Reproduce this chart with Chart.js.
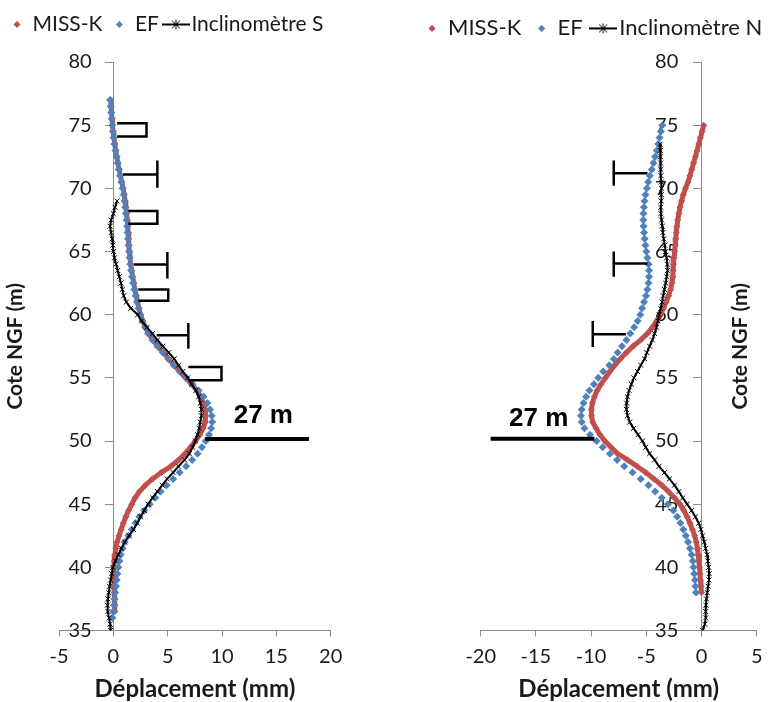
<!DOCTYPE html>
<html>
<head>
<meta charset="utf-8">
<script src="https://cdn.jsdelivr.net/npm/chart.js@4.4.1/dist/chart.umd.min.js"></script>
<style>
  html, body { margin: 0; padding: 0; background: #fff; overflow: hidden; }
  #wrap { position: relative; width: 771px; height: 702px; overflow: hidden; }
  #chartS { position: absolute; left: 0; top: 0; }
  #chartN { position: absolute; left: 385px; top: 0; }
</style>
</head>
<body>
<div id="wrap">
  <canvas id="chartS" width="385" height="702"></canvas>
  <canvas id="chartN" width="410" height="702"></canvas>
</div>
<script>
// --- data (cote NGF in m, displacement in mm) ---

// left profile (S): model curves every 0.5 m from 77 down to 36
const coteModelS = [77, 76.5, 76, 75.5, 75, 74.5, 74, 73.5, 73, 72.5, 72, 71.5, 71, 70.5, 70, 69.5, 69, 68.5, 68, 67.5,
  67, 66.5, 66, 65.5, 65, 64.5, 64, 63.5, 63, 62.5, 62, 61.5, 61, 60.5, 60, 59.5, 59, 58.5, 58, 57.5,
  57, 56.5, 56, 55.5, 55, 54.5, 54, 53.5, 53, 52.5, 52, 51.5, 51, 50.5, 50, 49.5, 49, 48.5, 48, 47.5,
  47, 46.5, 46, 45.5, 45, 44.5, 44, 43.5, 43, 42.5, 42, 41.5, 41, 40.5, 40, 39.5, 39, 38.5, 38, 37.5,
  37, 36.5, 36];
const missKS = [-0.25, -0.2, -0.17, -0.12, -0.08, -0.02, 0.05, 0.13, 0.22, 0.32,
  0.42, 0.53, 0.65, 0.78, 0.9, 1.0, 1.08, 1.15, 1.22, 1.28,
  1.32, 1.36, 1.4, 1.44, 1.48, 1.53, 1.6, 1.68, 1.78, 1.88,
  1.98, 2.1, 2.22, 2.35, 2.5, 2.7, 2.95, 3.25, 3.65, 4.1,
  4.6, 5.1, 5.6, 6.1, 6.65, 7.2, 7.7, 8.05, 8.3, 8.45,
  8.5, 8.45, 8.25, 7.95, 7.55, 7.1, 6.6, 6.0, 5.3, 4.4,
  3.6, 2.95, 2.4, 2.0, 1.7, 1.4, 1.15, 0.92, 0.72, 0.52,
  0.35, 0.22, 0.14, 0.08, 0.05, 0.04, 0.05, 0.07, 0.09, 0.12,
  0.14, 0.15];
const efS = [-0.3, -0.25, -0.2, -0.15, -0.1, -0.05, 0.02, 0.1, 0.2, 0.3,
  0.4, 0.5, 0.62, 0.74, 0.85, 0.95, 1.03, 1.1, 1.16, 1.22,
  1.27, 1.31, 1.35, 1.4, 1.45, 1.5, 1.56, 1.63, 1.72, 1.82,
  1.93, 2.05, 2.18, 2.32, 2.48, 2.68, 2.92, 3.2, 3.6, 4.05,
  4.55, 5.05, 5.55, 6.1, 6.7, 7.3, 7.85, 8.3, 8.65, 8.9,
  9.05, 9.1, 9.0, 8.8, 8.5, 8.15, 7.75, 7.25, 6.7, 6.1,
  5.5, 4.9, 4.35, 3.85, 3.35, 2.85, 2.4, 2.05, 1.7, 1.38,
  1.05, 0.85, 0.68, 0.56, 0.46, 0.38, 0.31, 0.24, 0.17, 0.1,
  0.05, 0.0, -0.08];
// inclinometer S, every 0.5 m from 69 down to 35
const coteInclS = [69, 68.5, 68, 67.5, 67, 66.5, 66, 65.5, 65, 64.5, 64, 63.5, 63, 62.5, 62, 61.5, 61, 60.5, 60, 59.5,
  59, 58.5, 58, 57.5, 57, 56.5, 56, 55.5, 55, 54.5, 54, 53.5, 53, 52.5, 52, 51.5, 51, 50.5, 50, 49.5,
  49, 48.5, 48, 47.5, 47, 46.5, 46, 45.5, 45, 44.5, 44, 43.5, 43, 42.5, 42, 41.5, 41, 40.5, 40, 39.5,
  39, 38.5, 38, 37.5, 37, 36.5, 36, 35.5, 35];
const inclS = [0.35, 0.15, 0.0, -0.2, -0.3, -0.2, -0.12, -0.05, 0.02, 0.1,
  0.25, 0.4, 0.55, 0.7, 0.82, 0.95, 1.2, 1.6, 2.25, 2.6,
  3.1, 3.6, 4.05, 4.55, 5.1, 5.6, 6.0, 6.4, 6.85, 7.2,
  7.6, 7.85, 8.0, 8.1, 8.1, 8.0, 7.9, 7.75, 7.55, 7.3,
  7.0, 6.55, 6.0, 5.5, 4.95, 4.5, 4.05, 3.6, 3.2, 2.85,
  2.5, 2.2, 1.85, 1.45, 1.05, 0.75, 0.45, 0.2, -0.05, -0.15,
  -0.25, -0.35, -0.42, -0.5, -0.55, -0.5, -0.4, -0.3, -0.25];

// right profile (N): model curves every 0.5 m from 75 down to 38
const coteModelN = [75, 74.5, 74, 73.5, 73, 72.5, 72, 71.5, 71, 70.5, 70, 69.5, 69, 68.5, 68, 67.5, 67, 66.5, 66, 65.5,
  65, 64.5, 64, 63.5, 63, 62.5, 62, 61.5, 61, 60.5, 60, 59.5, 59, 58.5, 58, 57.5, 57, 56.5, 56, 55.5,
  55, 54.5, 54, 53.5, 53, 52.5, 52, 51.5, 51, 50.5, 50, 49.5, 49, 48.5, 48, 47.5, 47, 46.5, 46, 45.5,
  45, 44.5, 44, 43.5, 43, 42.5, 42, 41.5, 41, 40.5, 40, 39.5, 39, 38.5, 38];
const missKN = [0.2, 0.05, -0.1, -0.25, -0.4, -0.55, -0.72, -0.88, -1.05, -1.22,
  -1.45, -1.65, -1.8, -1.95, -2.05, -2.15, -2.22, -2.28, -2.33, -2.38,
  -2.43, -2.5, -2.55, -2.58, -2.6, -2.68, -2.8, -2.98, -3.2, -3.45,
  -3.7, -4.05, -4.45, -4.9, -5.5, -6.2, -6.8, -7.35, -7.85, -8.3,
  -8.7, -9.1, -9.45, -9.7, -9.88, -9.97, -9.97, -9.85, -9.55, -9.2,
  -8.75, -8.2, -7.6, -6.7, -5.85, -5.05, -4.3, -3.6, -3.0, -2.45,
  -1.95, -1.6, -1.3, -1.05, -0.82, -0.62, -0.47, -0.37, -0.3, -0.24,
  -0.19, -0.14, -0.1, -0.05, 0.0];
const efN = [-3.55, -3.68, -3.8, -3.92, -4.05, -4.2, -4.35, -4.5, -4.68, -4.83,
  -4.95, -5.07, -5.16, -5.22, -5.26, -5.27, -5.25, -5.2, -5.15, -5.08,
  -5.0, -4.9, -4.8, -4.75, -4.75, -4.8, -4.9, -5.03, -5.2, -5.38,
  -5.55, -5.78, -6.1, -6.45, -6.8, -7.2, -7.6, -7.95, -8.35, -8.9,
  -9.35, -9.75, -10.15, -10.45, -10.68, -10.85, -10.92, -10.85, -10.6, -10.1,
  -9.5, -8.95, -8.3, -7.65, -7.0, -6.25, -5.5, -4.8, -4.2, -3.6,
  -3.05, -2.55, -2.2, -1.9, -1.65, -1.42, -1.22, -1.05, -0.9, -0.78,
  -0.72, -0.66, -0.6, -0.55, -0.5];
// inclinometer N, every 0.5 m from 73.5 down to 35
const coteInclN = [73.5, 73, 72.5, 72, 71.5, 71, 70.5, 70, 69.5, 69, 68.5, 68, 67.5, 67, 66.5, 66, 65.5, 65, 64.5, 64,
  63.5, 63, 62.5, 62, 61.5, 61, 60.5, 60, 59.5, 59, 58.5, 58, 57.5, 57, 56.5, 56, 55.5, 55, 54.5, 54,
  53.5, 53, 52.5, 52, 51.5, 51, 50.5, 50, 49.5, 49, 48.5, 48, 47.5, 47, 46.5, 46, 45.5, 45, 44.5, 44,
  43.5, 43, 42.5, 42, 41.5, 41, 40.5, 40, 39.5, 39, 38.5, 38, 37.5, 37, 36.5, 36, 35.5, 35];
const inclN = [-3.75, -3.73, -3.72, -3.7, -3.69, -3.67, -3.64, -3.62, -3.63, -3.66,
  -3.69, -3.68, -3.62, -3.56, -3.5, -3.42, -3.33, -3.25, -3.16, -3.1,
  -3.08, -3.15, -3.25, -3.36, -3.47, -3.58, -3.7, -3.83, -3.95, -4.07,
  -4.25, -4.45, -4.7, -4.95, -5.15, -5.5, -5.8, -6.12, -6.35, -6.56,
  -6.7, -6.78, -6.8, -6.7, -6.5, -6.15, -5.75, -5.35, -5.05, -4.7,
  -4.25, -3.85, -3.35, -2.9, -2.45, -2.05, -1.7, -1.3, -0.9, -0.55,
  -0.25, -0.05, 0.1, 0.25, 0.38, 0.5, 0.58, 0.65, 0.7, 0.68,
  0.6, 0.52, 0.45, 0.4, 0.38, 0.38, 0.3, 0.1];

// bracket marks (S): [cote top, cote bottom, x from, x to]
const boxMarksS = [[75.15, 74.1, 0.35, 3.05], [68.2, 67.2, 1.38, 4.05], [62.0, 61.1, 2.3, 5.05], [55.85, 54.8, 6.9, 9.95]];
// T marks: [cote, x from, x bar, bar top, bar bottom]
const tMarksS = [[71.1, 0.9, 4.05, 72.2, 70.05], [63.97, 1.9, 4.97, 64.97, 62.86], [58.37, 3.99, 6.9, 59.34, 57.31]];
const tMarksN = [[71.2, -4.9, -7.95, 72.2, 70.2], [64.05, -4.9, -7.95, 65.0, 63.0], [58.45, -6.85, -9.85, 59.5, 57.45]];

// "27 m" level line: [cote, x from, x to]
const levelS = [50.15, 8.45, 18.0];
const levelN = [50.18, -19.1, -9.7];
const levelText = '27 m';

const xTicksS = { min: -5, max: 20, step: 5 };
const xTicksN = { min: -20, max: 5, step: 5 };
const yTicks = { min: 35, max: 80, step: 5 };

// --- styling ---
const RED = '#c0504d';
const BLUE = '#4f81bd';
const BLACK = '#000000';
const AXIS = '#8c8c8c';
const TEXT = '#1a1a1a';
const FONT = 'Lato';

function toPoints(cotes, values) {
  return values.map((v, i) => ({ x: v, y: cotes[i] }));
}

function inclIcon() {
  const c = document.createElement('canvas');
  c.width = 28;
  c.height = 12;
  const g = c.getContext('2d');
  g.strokeStyle = BLACK;
  g.lineWidth = 2;
  g.beginPath();
  g.moveTo(0, 6);
  g.lineTo(28, 6);
  g.stroke();
  g.lineWidth = 1;
  g.beginPath();
  g.moveTo(10, 2); g.lineTo(18, 10);
  g.moveTo(18, 2); g.lineTo(10, 10);
  g.moveTo(14, 1); g.lineTo(14, 11);
  g.stroke();
  return c;
}

function markLine(points) {
  return {
    data: points.map(p => ({ x: p[0], y: p[1] })),
    showLine: true,
    borderColor: BLACK,
    borderWidth: 2.5,
    pointRadius: 0,
    order: 0
  };
}

function buildDatasets(missK, ef, incl, coteModel, coteIncl, boxes, tees, level) {
  const sets = [
    {
      label: 'MISS-K', data: toPoints(coteModel, missK),
      showLine: true, borderColor: RED, backgroundColor: RED, borderWidth: 5,
      pointStyle: 'rectRot', pointRadius: 3.5, pointBorderWidth: 0, order: 3
    },
    {
      label: 'EF', data: toPoints(coteModel, ef),
      showLine: false, borderColor: BLUE, backgroundColor: BLUE,
      pointStyle: 'rectRot', pointRadius: 4, pointBorderWidth: 0, order: 2
    },
    {
      label: 'Inclinomètre', data: toPoints(coteIncl, incl),
      showLine: true, borderColor: BLACK, backgroundColor: BLACK, borderWidth: 2,
      pointStyle: 'crossRot', pointRadius: 3.5, pointBorderWidth: 1, order: 1
    }
  ];
  boxes.forEach(b => {
    sets.push(markLine([[b[2], b[0]], [b[3], b[0]], [b[3], b[1]], [b[2], b[1]]]));
  });
  tees.forEach(t => {
    sets.push(markLine([[t[1], t[0]], [t[2], t[0]]]));
    sets.push(markLine([[t[2], t[3]], [t[2], t[4]]]));
  });
  const lvl = markLine([[level[1], level[0]], [level[2], level[0]]]);
  lvl.borderWidth = 4;
  sets.push(lvl);
  return sets;
}

// y tick labels sit a little left of the axis line at x = 0 (under the curves),
// then the "27 m" label and, when asked, a rotated side title on top
const overlayText = {
  id: 'overlayText',
  beforeDatasetsDraw(chart, args, opts) {
    const { ctx, scales } = chart;
    const ys = scales.y;
    const xr = scales.x.getPixelForValue(0) - opts.labelGap;
    ctx.save();
    ctx.fillStyle = TEXT;
    ctx.font = '20px ' + FONT;
    ctx.textAlign = 'right';
    ctx.textBaseline = 'middle';
    ys.ticks.forEach(t => ctx.fillText(String(t.value), xr, ys.getPixelForValue(t.value)));
    ctx.restore();
  },
  afterDatasetsDraw(chart, args, opts) {
    const { ctx, scales, chartArea } = chart;
    ctx.save();
    ctx.fillStyle = '#000';
    ctx.textAlign = 'center';
    ctx.textBaseline = 'middle';
    ctx.font = 'bold 26px "Liberation Sans", Arial, sans-serif';
    ctx.fillText(opts.text, scales.x.getPixelForValue(opts.x), scales.y.getPixelForValue(opts.y));
    if (opts.sideTitle) {
      ctx.translate(opts.sideTitle.px, (chartArea.top + chartArea.bottom) / 2);
      ctx.rotate(-Math.PI / 2);
      ctx.fillStyle = TEXT;
      ctx.font = 'bold 21px ' + FONT;
      ctx.fillText(opts.sideTitle.text, 0, 0);
    }
    ctx.restore();
  }
};

function blankAxis(axis, position, size) {
  return {
    axis, position, display: true,
    ticks: { display: false },
    grid: { display: false },
    border: { display: false },
    afterFit: s => { if (axis === 'x') s.height = size; else s.width = size; }
  };
}

function makeChart(id, cfg) {
  const icon = inclIcon();
  const scales = {
    x: {
      type: 'linear', position: 'bottom', min: cfg.xr.min, max: cfg.xr.max,
      ticks: { stepSize: cfg.xr.step, color: TEXT, font: { family: FONT, size: 20 }, padding: 8 },
      grid: { drawOnChartArea: false, color: AXIS, tickLength: 6 },
      border: { color: AXIS },
      title: { display: true, text: 'Déplacement (mm)', color: TEXT, font: { family: FONT, size: 24, weight: 'bold', lineHeight: 1.1 }, padding: { top: 2, bottom: 0 } },
      afterFit: s => { s.height = 71.5; }
    },
    // axis line and tick marks at x = 0 (labels drawn by overlayText)
    y: {
      type: 'linear', position: { x: 0 }, min: yTicks.min, max: yTicks.max,
      ticks: { stepSize: yTicks.step, display: false },
      grid: { drawOnChartArea: false, color: AXIS, tickLength: 8 },
      border: { color: AXIS },
      afterFit: s => { s.width = 0; }
    },
    xTop: blankAxis('x', 'top', cfg.topGap),
    yLeft: blankAxis('y', 'left', cfg.leftW),
    yRight: blankAxis('y', 'right', cfg.rightW)
  };
  if (cfg.leftTitle) {
    scales.yLeft.title = { display: true, text: 'Cote NGF (m)', color: TEXT, font: { family: FONT, size: 21, weight: 'bold' }, padding: { top: 3, bottom: 0 } };
  }
  return new Chart(document.getElementById(id), {
    type: 'scatter',
    data: { datasets: cfg.datasets },
    options: {
      responsive: false,
      animation: false,
      layout: { padding: cfg.padding },
      scales,
      plugins: {
        tooltip: { enabled: false },
        legend: {
          position: 'top',
          align: 'start',
          labels: {
            usePointStyle: true,
            boxWidth: 10,
            boxHeight: 5,
            padding: cfg.legendGap,
            color: TEXT,
            font: { family: FONT, size: cfg.legendSize },
            generateLabels: chart => chart.data.datasets.slice(0, 3).map((ds, i) => ({
              text: i === 2 ? cfg.inclName : ds.label,
              fillStyle: ds.backgroundColor,
              strokeStyle: ds.borderColor,
              lineWidth: 0,
              pointStyle: i === 2 ? icon : 'rectRot',
              hidden: false,
              datasetIndex: i,
              fontColor: TEXT
            }))
          }
        },
        overlayText: cfg.overlay
      }
    },
    plugins: [overlayText]
  });
}

makeChart('chartS', {
  xr: xTicksS,
  datasets: buildDatasets(missKS, efS, inclS, coteModelS, coteInclS, boxMarksS, tMarksS, levelS),
  inclName: 'Inclinomètre S',
  padding: { left: 0, right: 0, top: 2, bottom: 0 },
  legendSize: 21, legendGap: 12,
  topGap: 17, leftW: 59, rightW: 54.3, leftTitle: true,
  overlay: { labelGap: 21.7, text: levelText, x: 13.8, y: 52.0 }
});

makeChart('chartN', {
  xr: xTicksN,
  datasets: buildDatasets(missKN, efN, inclN, coteModelN, coteInclN, [], tMarksN, levelN),
  inclName: 'Inclinomètre N',
  padding: { left: 26.6, right: 0, top: 2, bottom: 0 },
  legendSize: 22, legendGap: 15.4,
  topGap: 12.6, leftW: 69.1, rightW: 38.3, leftTitle: false,
  overlay: { labelGap: 23.2, text: levelText, x: -14.75, y: 51.75, sideTitle: { text: 'Cote NGF (m)', px: 355 } }
});
</script>
</body>
</html>
